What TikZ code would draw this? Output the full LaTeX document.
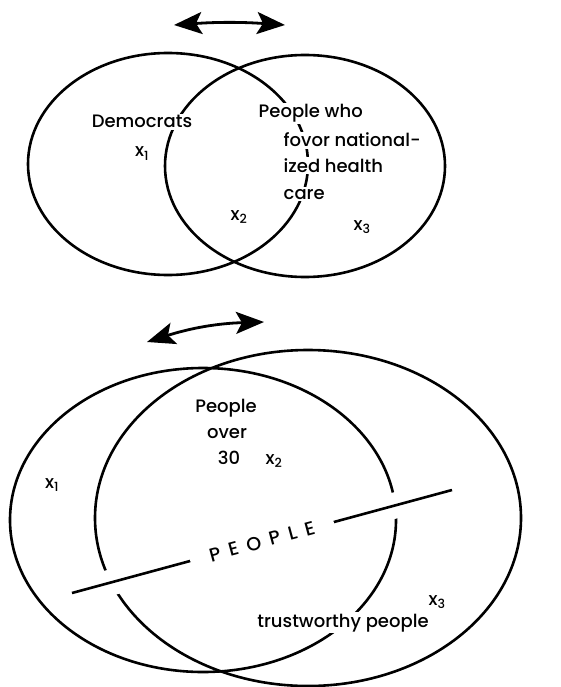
\documentclass[tikz,border=0pt]{standalone}
\usepackage{fontspec}
\setmainfont{Poppins}[UprightFont={* Medium}]
\usetikzlibrary{arrows.meta,positioning}

\begin{document}
\begin{tikzpicture}[x=1pt,y=-1pt,>={Stealth[length=28pt,width=22pt,inset=6pt]},
  ring/.style={line width=2.6pt},
  swing/.style={line width=2.8pt,<->},
  lbl/.style={font=\fontsize{18}{21}\selectfont,inner sep=1.5pt,fill=white}]
\useasboundingbox (0,0) rectangle (561,687);
% top pair
\draw[ring] (168,164) ellipse [x radius=140pt, y radius=111pt];
\draw[ring] (305,166) ellipse [x radius=140pt, y radius=111pt];
\coordinate (ta) at (174,25);
\coordinate (tb) at (285,25);
\draw[swing] (ta) to[bend left=4] (tb);
\node[lbl,anchor=base] (dem) at (142,128) {Democrats};
\node[lbl,anchor=base] (xa) at (142,157) {x\textsubscript{1}};
\node[lbl,anchor=base west] (nh1) at (257,118) {People who};
\node[lbl,anchor=base west] (nh2) at (282,147) {fovor national-};
\node[lbl,anchor=base west] (nh3) at (282,172) {ized health};
\node[lbl,anchor=base west] (nh4) at (282,199) {care};
\node[lbl,anchor=base] (xb) at (239,220) {x\textsubscript{2}};
\node[lbl,anchor=base] (xc) at (362,230) {x\textsubscript{3}};
% bottom pair
\draw[ring] (203,520) ellipse [x radius=193pt, y radius=152pt];
\draw[ring] (308,518) ellipse [x radius=213pt, y radius=168pt];
\coordinate (ba) at (147,342);
\coordinate (bb) at (264,322);
\draw[swing] (ba) to[bend left=8] (bb);
\coordinate (pl) at (72,593);
\coordinate (pr) at (452,490);
\draw[ring,preaction={draw=white,line width=26pt}] (pl) -- (pr)
  node[midway,sloped,fill=white,inner xsep=20pt,inner ysep=2pt,
  font=\fontsize{19}{22}\selectfont\addfontfeature{LetterSpace=45}] (ppl) {PEOPLE};
\node[lbl,anchor=base] (ov1) at (226,412) {People};
\node[lbl,anchor=base] (ov2) at (227,438) {over};
\node[lbl,anchor=base] (ov3) at (229,464) {30};
\node[lbl,anchor=base] (ya) at (52,488) {x\textsubscript{1}};
\node[lbl,anchor=base] (yb) at (274,464) {x\textsubscript{2}};
\node[lbl,anchor=base] (yc) at (437,605) {x\textsubscript{3}};
\node[lbl,anchor=base] (tru) at (343,627) {trustworthy people};
\end{tikzpicture}
\end{document}
